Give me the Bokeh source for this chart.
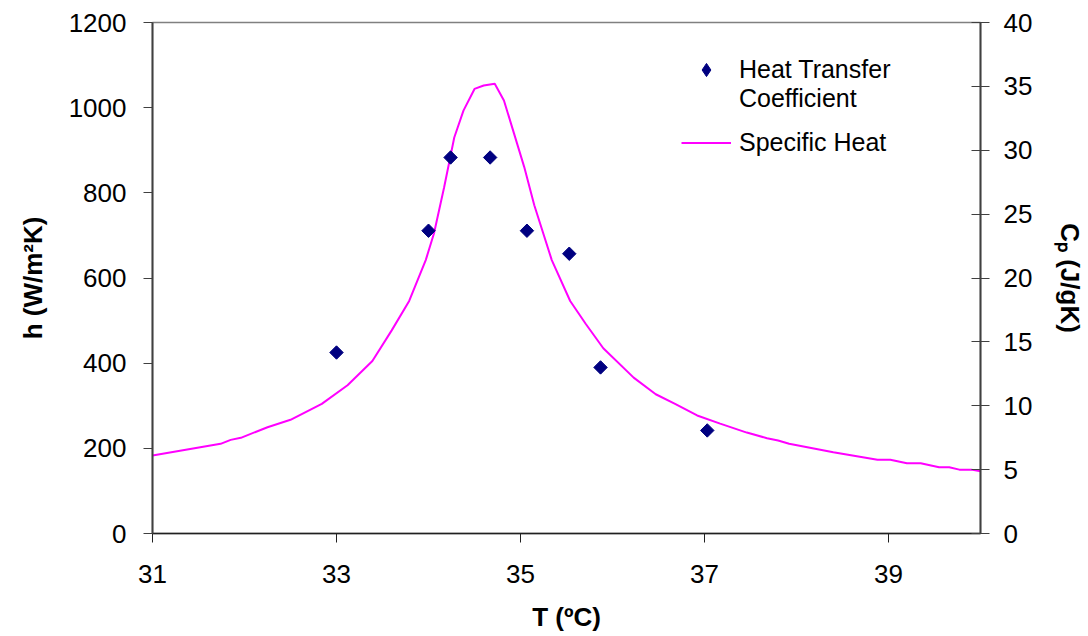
import math
from bokeh.plotting import figure
from bokeh.models import (Range1d, LinearAxis, FixedTicker, Legend, LegendItem,
                          ColumnDataSource)
from bokeh.embed import file_html
from bokeh.resources import INLINE

# ---- data ----
T_h = [33.0, 34.0, 34.24, 34.67, 35.07, 35.53, 35.87, 37.03]
h_vals = [425, 711, 883, 883, 711, 657, 390, 242]

T_cp = [31.0, 31.74, 31.85, 31.96, 32.25, 32.5, 32.84, 33.12, 33.39, 33.6,
        33.79, 33.97, 34.06, 34.17, 34.28, 34.38, 34.5, 34.6, 34.72, 34.82,
        34.93, 35.04, 35.15, 35.34, 35.54, 35.71, 35.9, 36.23, 36.47, 36.68,
        36.92, 37.17, 37.46, 37.68, 37.8, 37.92, 38.4, 38.88, 39.02, 39.2,
        39.35, 39.55, 39.66, 39.77, 39.9, 40.0]
cp_vals = [6.1, 7.02, 7.33, 7.49, 8.32, 8.9, 10.15, 11.6, 13.5, 15.9,
           18.2, 21.4, 23.5, 27.1, 31.0, 33.1, 34.8, 35.07, 35.2, 33.9,
           31.3, 28.7, 25.7, 21.4, 18.2, 16.4, 14.5, 12.2, 10.9, 10.15,
           9.24, 8.6, 7.9, 7.46, 7.28, 7.02, 6.36, 5.77, 5.77, 5.5,
           5.5, 5.19, 5.19, 5.0, 5.0, 4.88]

x_ticks = [31, 33, 35, 37, 39]
h_ticks = [0, 200, 400, 600, 800, 1000, 1200]
cp_ticks = [0, 5, 10, 15, 20, 25, 30, 35, 40]

FONT = "Liberation Sans"
NAVY = "#000080"
NAN = float("nan")

p = figure(width=1088, height=636, output_backend="svg", toolbar_location=None,
           x_range=Range1d(31, 40), y_range=Range1d(0, 1200),
           min_border_left=152, min_border_right=108,
           min_border_top=22, min_border_bottom=103)
p.extra_y_ranges = {"cp": Range1d(0, 40)}
p.xgrid.visible = False
p.ygrid.visible = False
p.outline_line_color = "#808080"
p.outline_line_width = 1.3
p.background_fill_color = "white"
p.border_fill_color = "white"

# Specific heat line (right axis)
cp_src = ColumnDataSource(dict(x=T_cp, y=cp_vals))
line_r = p.line("x", "y", source=cp_src, y_range_name="cp",
                line_color="#FF00FF", line_width=2)

# Heat transfer coefficient points (rotated squares = diamonds)
h_src = ColumnDataSource(dict(x=T_h, y=h_vals))
pts_r = p.scatter("x", "y", source=h_src, marker="square", size=9.5,
                  angle=math.pi / 4, fill_color=NAVY, line_color=NAVY)

# legend-only helpers (nothing drawn on the plot)
leg_diamond = p.scatter([NAN], [NAN], marker="diamond",
                        fill_color=NAVY, line_color=NAVY)
blank_r = p.line([], [], line_alpha=0)

def style_axis(ax, lw, lc):
    ax.axis_line_color = lc
    ax.axis_line_width = lw
    ax.major_tick_line_color = lc
    ax.major_tick_line_width = 1
    ax.minor_tick_line_color = None
    ax.major_label_text_font = FONT
    ax.major_label_text_font_size = "26px"
    ax.major_label_text_color = "black"
    ax.axis_label_text_font = FONT
    ax.axis_label_text_font_size = "26px"
    ax.axis_label_text_font_style = "bold"
    ax.axis_label_text_color = "black"

xa = p.xaxis[0]
style_axis(xa, 1.5, "#202020")
xa.ticker = FixedTicker(ticks=x_ticks)
xa.major_tick_in = 0
xa.major_tick_out = 9
xa.major_label_standoff = 22
xa.axis_label = "T (ºC)"
xa.axis_label_standoff = 16

ya = p.yaxis[0]
style_axis(ya, 2, "#404040")
ya.ticker = FixedTicker(ticks=h_ticks)
ya.major_tick_in = 0
ya.major_tick_out = 9
ya.major_label_standoff = 17
ya.axis_label = "h (W/m²K)"
ya.axis_label_standoff = 18

ra = LinearAxis(y_range_name="cp")
style_axis(ra, 2, "#404040")
ra.ticker = FixedTicker(ticks=cp_ticks)
ra.major_tick_in = 9
ra.major_tick_out = 9
ra.major_label_standoff = 14
ra.axis_label = "Cₚ (J/gK)"
ra.axis_label_standoff = 20
p.add_layout(ra, "right")

def make_legend(items, loc, gh=29):
    return Legend(items=items, location=loc, orientation="vertical",
                  glyph_width=50, glyph_height=gh, label_height=gh,
                  label_standoff=8, padding=0, margin=0, spacing=0,
                  border_line_alpha=0, background_fill_alpha=0,
                  label_text_font=FONT, label_text_font_size="25px",
                  label_text_color="black")

legA = make_legend([LegendItem(label="Heat Transfer", renderers=[leg_diamond])],
                   (529, 447), gh=33)
legB = make_legend([LegendItem(label="Coefficient", renderers=[blank_r])],
                   (529, 420))
leg2 = make_legend([LegendItem(label="Specific Heat", renderers=[line_r])],
                   (529, 376))
for lg in (legA, legB, leg2):
    p.add_layout(lg, "center")

open("out.html", "w").write(file_html(p, INLINE))
